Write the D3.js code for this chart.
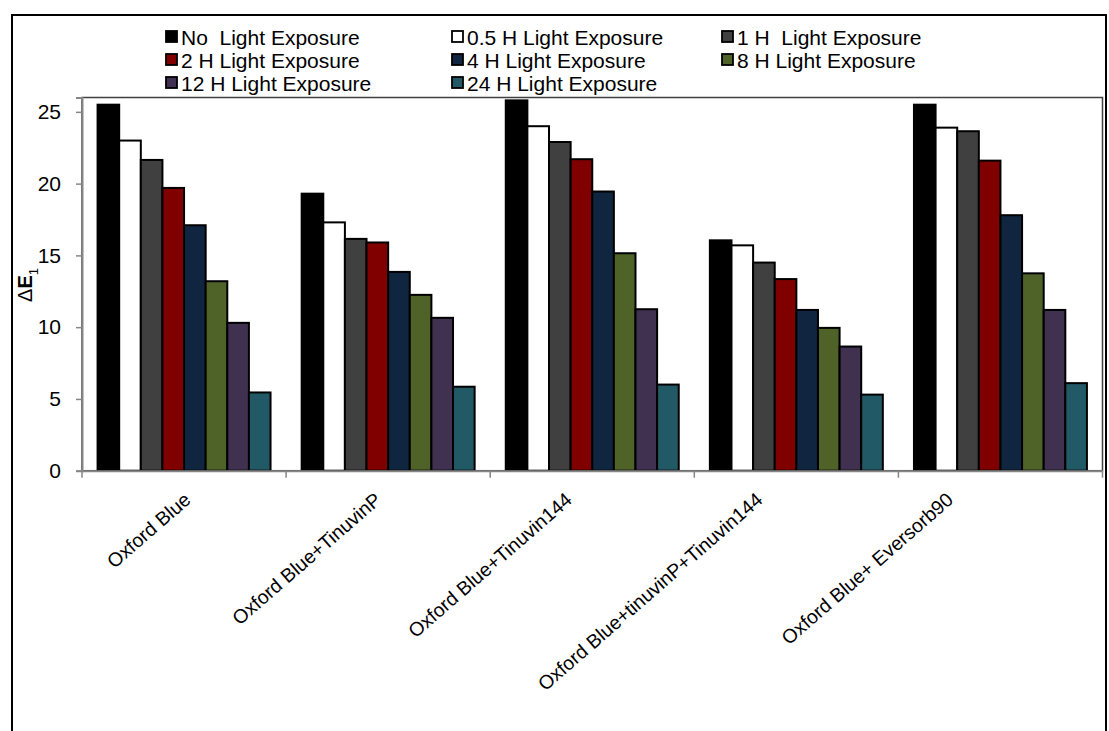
<!DOCTYPE html>
<html><head><meta charset="utf-8">
<script src="https://cdn.jsdelivr.net/npm/d3@7"></script>
<style>
body{margin:0;background:#fff;}
text{font-family:"Liberation Sans",Arial,sans-serif;fill:#000;}
</style></head>
<body><svg id="c" width="1109" height="731"></svg>
<script>
const categories = ["Oxford Blue","Oxford Blue+TinuvinP","Oxford Blue+Tinuvin144","Oxford Blue+tinuvinP+Tinuvin144","Oxford Blue+ Eversorb90"];
const seriesNames = ["No  Light Exposure","0.5 H Light Exposure","1 H  Light Exposure","2 H Light Exposure","4 H Light Exposure","8 H Light Exposure","12 H Light Exposure","24 H Light Exposure"];
const seriesColors = ["#000000","#ffffff","#404040","#800000","#10253f","#4f6228","#403151","#215967"];
const noLight   = [25.5, 19.3, 25.8, 16.05, 25.5];
const h05       = [23.0, 17.3, 24.0, 15.7, 23.9];
const h1        = [21.65, 16.15, 22.9, 14.5, 23.65];
const h2        = [19.7, 15.9, 21.7, 13.35, 21.6];
const h4        = [17.1, 13.85, 19.45, 11.2, 17.8];
const h8        = [13.2, 12.25, 15.15, 9.95, 13.75];
const h12       = [10.3, 10.65, 11.25, 8.65, 11.2];
const h24       = [5.45, 5.85, 6.0, 5.3, 6.1];
const yTicks = [0,5,10,15,20,25];
const seriesValues = [noLight,h05,h1,h2,h4,h8,h12,h24];

const svg = d3.select("#c");
const L=82,R=1102.5,T=97.5,B=470.7;

// outer border
svg.append("rect").attr("x",12).attr("y",15).attr("width",1094).attr("height",730)
  .attr("fill","none").attr("stroke","#000").attr("stroke-width",2);

const x0 = d3.scaleBand().domain(categories).range([L,R]).padding(0);
const x1 = d3.scaleBand().domain(d3.range(seriesNames.length)).range([0,x0.bandwidth()]).paddingInner(0).paddingOuter(0.72);
const y = d3.scaleLinear().domain([0,26]).range([B,T]);

// plot border
svg.append("rect").attr("x",L).attr("y",T).attr("width",R-L).attr("height",B-T)
  .attr("fill","none").attr("stroke","#404040").attr("stroke-width",1.5);

// bars
const groups = svg.append("g").selectAll("g").data(categories).join("g")
  .attr("transform",d=>`translate(${x0(d)},0)`);
groups.selectAll("rect").data((c,ci)=>seriesValues.map((s,si)=>({si,v:s[ci]}))).join("rect")
  .attr("x",d=>x1(d.si)).attr("width",x1.bandwidth())
  .attr("y",d=>y(d.v)).attr("height",d=>B-y(d.v))
  .attr("fill",d=>seriesColors[d.si]).attr("stroke","#000").attr("stroke-width",2);

// y axis
const ya = svg.append("g").attr("transform",`translate(${L},0)`)
  .call(d3.axisLeft(y).tickValues(yTicks).tickSize(6).tickPadding(15));
ya.select(".domain").attr("stroke","#868686").attr("stroke-width",2);
ya.selectAll(".tick line").attr("stroke","#868686").attr("stroke-width",1.5);
ya.selectAll(".tick text").attr("font-size",21).attr("font-family","Liberation Sans, Arial, sans-serif");

// x axis
const xa = svg.append("g").attr("transform",`translate(0,${B})`)
  .call(d3.axisBottom(x0).tickSize(0).tickFormat(""));
xa.select(".domain").attr("stroke","#868686").attr("stroke-width",2);
xa.selectAll(".tick").remove();
const bounds = categories.map(c=>x0(c)).concat([R]);
svg.append("g").selectAll("line").data(bounds).join("line")
  .attr("x1",d=>d).attr("x2",d=>d).attr("y1",B).attr("y2",B+7)
  .attr("stroke","#868686").attr("stroke-width",1.5);
// label anchor positions (Excel packs rotated labels slightly tighter than the bands)
const xl = d3.scalePoint().domain(categories).range([L+110, R-148]);
svg.append("g").selectAll("text").data(categories).join("text")
  .attr("transform",d=>`translate(${xl(d)},${B+31}) rotate(-41)`)
  .attr("text-anchor","end").attr("font-size",19.5).text(d=>d);

// y title
const yt = svg.append("text").attr("transform","translate(32,285) rotate(-90)")
  .attr("text-anchor","middle").attr("font-size",20);
yt.append("tspan").text("\u0394");
yt.append("tspan").attr("font-weight","bold").text("E");
yt.append("tspan").attr("font-size",13).attr("dy",6).text("1");

// legend
const colX=[166,452,722], rowY=[37,60,83];
const lg = svg.append("g").selectAll("g").data(seriesNames).join("g")
  .attr("transform",(d,i)=>`translate(${colX[i%3]},${rowY[Math.floor(i/3)]})`);
lg.append("rect").attr("x",0).attr("y",-6).attr("width",11).attr("height",11)
  .attr("fill",(d,i)=>seriesColors[i]).attr("stroke","#000").attr("stroke-width",1.8);
lg.append("text").attr("x",15).attr("y",7.5).attr("font-size",21)
  .style("white-space","pre").text(d=>d);
</script></body></html>
